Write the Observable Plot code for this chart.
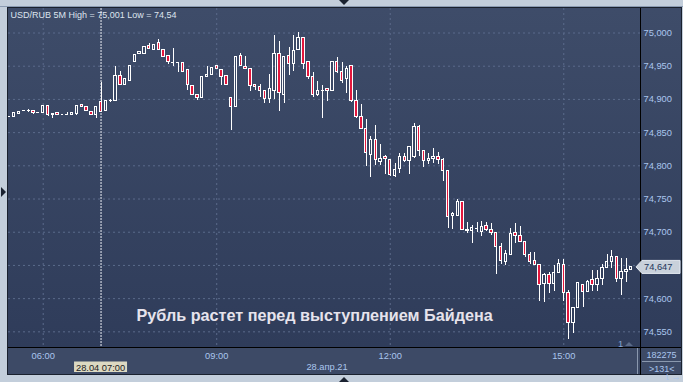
<!DOCTYPE html>
<html><head><meta charset="utf-8">
<script src="https://cdn.jsdelivr.net/npm/d3@7"></script>
<script src="https://cdn.jsdelivr.net/npm/@observablehq/plot@0.6"></script>
<style>
body{margin:0;}
#wrap{position:relative;width:683px;height:382px;background:#c3cedb;overflow:hidden;font-family:"Liberation Sans",Arial,sans-serif;}
.abs{position:absolute;}
</style></head><body><div id="wrap">
<div class="abs" style="left:0;top:6px;width:683px;height:1px;background:#8b9bb2"></div>
<div class="abs" style="left:7px;top:7px;width:675px;height:368px;background:#1a212e"></div>
<div class="abs" style="left:8px;top:8px;width:632px;height:339px;background:linear-gradient(#3e4c69,#2f3c5a)"></div>
<div class="abs" style="left:641px;top:8px;width:40px;height:339px;background:linear-gradient(#3e4c69,#2f3c5a)"></div>
<div class="abs" style="left:8px;top:348px;width:673px;height:26px;background:#3d4a66"></div>
<div class="abs" style="left:637px;top:348px;width:1px;height:26px;background:#8a98ae"></div>
<div class="abs" style="left:339px;top:0;width:0;height:0;border-left:5px solid transparent;border-right:5px solid transparent;border-top:5px solid #1a2230"></div>
<div class="abs" style="left:339px;top:377px;width:0;height:0;border-left:5px solid transparent;border-right:5px solid transparent;border-bottom:5px solid #1a2230"></div>
<div class="abs" style="left:1px;top:187px;width:0;height:0;border-top:5px solid transparent;border-bottom:5px solid transparent;border-left:5px solid #1a2230"></div>
<div id="chart" class="abs" style="left:0;top:0"></div>
<svg id="over" class="abs" style="left:0;top:0" width="683" height="382"></svg>
</div>
<script>
// 5-minute candles USD/RUB, 28.04.2021, first candle at 05:25
const startTime = "2021-04-28T05:25:00Z";
const open = [74.874,74.873,74.878,74.883,74.883,74.882,74.880,74.880,74.890,74.878,74.880,74.877,74.878,74.876,74.878,74.892,74.889,74.881,74.876,74.896,
74.882,74.898,74.898,74.936,74.922,74.927,74.956,74.969,74.968,74.980,74.975,74.985,74.975,74.965,74.956,74.955,74.955,74.944,74.920,74.907,
74.902,74.934,74.937,74.950,74.945,74.935,74.902,74.888,74.965,74.949,74.946,74.922,74.919,74.913,74.900,74.913,74.969,74.907,74.966,74.954,
74.974,74.993,74.956,74.933,74.906,74.914,74.916,74.913,74.956,74.942,74.930,74.950,74.897,74.874,74.856,74.816,74.839,74.806,74.813,74.809,
74.784,74.795,74.813,74.807,74.814,74.859,74.822,74.807,74.810,74.813,74.809,74.792,74.724,74.725,74.746,74.702,74.702,74.705,74.700,74.709,
74.704,74.699,74.677,74.655,74.665,74.699,74.695,74.686,74.665,74.656,74.651,74.622,74.636,74.622,74.638,74.651,74.609,74.564,74.586,74.621,
74.610,74.628,74.620,74.630,74.646,74.655,74.663,74.630,74.640,74.643];
const high = [74.875,74.880,74.882,74.883,74.885,74.882,74.880,74.890,74.890,74.878,74.880,74.877,74.880,74.879,74.890,74.893,74.889,74.881,74.888,74.925,
74.898,74.900,74.949,74.942,74.930,74.951,74.967,74.972,74.979,74.984,74.982,74.990,74.975,74.965,74.977,74.955,74.955,74.944,74.920,74.907,
74.933,74.949,74.948,74.950,74.945,74.935,74.902,74.964,74.969,74.965,74.946,74.922,74.922,74.913,74.937,74.996,74.987,74.964,74.978,74.996,
75.001,74.993,74.956,74.941,74.927,74.921,74.916,74.957,74.963,74.956,74.950,74.950,74.913,74.892,74.870,74.844,74.860,74.832,74.816,74.809,
74.804,74.819,74.819,74.829,74.863,74.860,74.822,74.819,74.826,74.820,74.811,74.793,74.730,74.749,74.747,74.715,74.710,74.715,74.716,74.714,
74.713,74.699,74.683,74.672,74.706,74.713,74.708,74.686,74.670,74.670,74.652,74.638,74.640,74.650,74.659,74.659,74.612,74.586,74.625,74.622,
74.628,74.643,74.643,74.652,74.666,74.672,74.664,74.661,74.661,74.648];
const low = [74.873,74.873,74.878,74.883,74.881,74.878,74.880,74.880,74.875,74.872,74.877,74.877,74.876,74.876,74.876,74.889,74.883,74.877,74.872,74.880,
74.882,74.896,74.897,74.922,74.922,74.927,74.956,74.968,74.968,74.976,74.975,74.975,74.964,74.953,74.949,74.941,74.942,74.913,74.907,74.899,
74.902,74.933,74.937,74.946,74.921,74.921,74.853,74.888,74.950,74.946,74.912,74.914,74.903,74.894,74.894,74.900,74.882,74.894,74.936,74.942,
74.974,74.945,74.930,74.903,74.905,74.872,74.897,74.913,74.939,74.924,74.909,74.896,74.872,74.854,74.799,74.783,74.800,74.800,74.787,74.784,
74.783,74.789,74.805,74.787,74.811,74.814,74.797,74.802,74.803,74.802,74.777,74.705,74.704,74.725,74.702,74.698,74.683,74.699,74.693,74.701,
74.695,74.637,74.652,74.650,74.665,74.683,74.685,74.662,74.652,74.650,74.596,74.594,74.607,74.610,74.638,74.595,74.539,74.547,74.586,74.586,
74.609,74.610,74.610,74.620,74.646,74.646,74.625,74.605,74.625,74.643];
const close = [74.874,74.880,74.881,74.883,74.883,74.879,74.880,74.890,74.877,74.876,74.877,74.877,74.878,74.879,74.890,74.889,74.883,74.877,74.888,74.881,
74.898,74.898,74.935,74.922,74.930,74.951,74.967,74.972,74.979,74.976,74.982,74.975,74.964,74.956,74.956,74.955,74.942,74.921,74.907,74.902,
74.933,74.937,74.948,74.946,74.934,74.921,74.889,74.964,74.950,74.946,74.920,74.918,74.912,74.900,74.916,74.969,74.909,74.964,74.953,74.973,
74.993,74.954,74.933,74.906,74.913,74.914,74.913,74.956,74.942,74.928,74.946,74.897,74.873,74.856,74.820,74.839,74.809,74.811,74.811,74.786,
74.794,74.813,74.807,74.829,74.859,74.822,74.808,74.811,74.813,74.809,74.792,74.723,74.727,74.746,74.703,74.704,74.707,74.705,74.708,74.704,
74.699,74.678,74.657,74.667,74.697,74.694,74.686,74.665,74.655,74.651,74.620,74.635,74.622,74.638,74.652,74.609,74.564,74.586,74.624,74.610,
74.625,74.620,74.630,74.646,74.655,74.662,74.630,74.640,74.643,74.647];
const yTicks = [74.55,74.60,74.65,74.70,74.75,74.80,74.85,74.90,74.95,75.00];
const xTickLabels = ["06:00","09:00","12:00","15:00"];
const cursorLabel = "28.04 07:00";
const dateLabel = "28.апр.21";
const titleText = "USD/RUB 5M High = 75,001 Low = 74,54";
const headline = "Рубль растет перед выступлением Байдена";
const lastPrice = 74.647;
const volumeText = "182275";
const barsText = ">131<";

const FIVE = 5*60*1000;
const t0 = Date.parse(startTime);
const data = open.map((o,i)=>({t:new Date(t0+i*FIVE), o, h:high[i], l:low[i], c:close[i]}));
const dayAt = s => new Date(`2021-04-28T${s}:00Z`);
const xTickDates = xTickLabels.map(dayAt);
const cursorTime = dayAt("07:00");
const fmtY = d => d3.format(".3f")(d).replace(".", ",");
// the last-price box covers the tick label nearest to it
const yLabelTicks = yTicks.filter(v => Math.abs(v - lastPrice) > 0.01);
const RED = "#e3173d";
const GRID = "#5b6b8b";
const AXC = "#aac6ee";

const chart = Plot.plot({
  width:683, height:382, marginLeft:8, marginRight:43, marginTop:8, marginBottom:35,
  style:{background:"transparent", fontFamily:"'Liberation Sans', Arial, sans-serif", fontSize:"9.3px", overflow:"visible"},
  x:{type:"utc", domain:[new Date(Date.UTC(2021,3,28,5,24)), new Date(Date.UTC(2021,3,28,16,19,36))]},
  y:{domain:[74.5264,75.0369]},
  marks:[
    Plot.ruleY(yTicks,{stroke:GRID, strokeDasharray:"2,3"}),
    Plot.ruleX(xTickDates,{stroke:GRID, strokeDasharray:"2,3"}),
    Plot.ruleX([cursorTime],{stroke:"#eef0f6", strokeDasharray:"2,1"}),
    Plot.ruleX(data,{x:"t", y1:"h", y2:d=>Math.max(d.o,d.c), stroke:"white", shapeRendering:"crispEdges"}),
    Plot.ruleX(data,{x:"t", y1:d=>Math.min(d.o,d.c), y2:"l", stroke:"white", shapeRendering:"crispEdges"}),
    Plot.rect(data.filter(d=>d.o!==d.c),{x1:d=>new Date(+d.t-75000), x2:d=>new Date(+d.t+75000), y1:"o", y2:"c",
      fill:d=>d.c<d.o?RED:"none", stroke:"white", shapeRendering:"crispEdges"}),
    Plot.ruleY(data.filter(d=>d.o===d.c),{y:"c", x1:d=>new Date(+d.t-90000), x2:d=>new Date(+d.t+90000), stroke:"white", shapeRendering:"crispEdges"}),
    Plot.axisY(yLabelTicks,{anchor:"right", tickSize:0, tickPadding:3, tickFormat:fmtY, color:AXC, fontSize:9.3}),
    Plot.axisX(xTickDates,{anchor:"bottom", tickSize:0, tickPadding:5, tickFormat:d3.utcFormat("%H:%M"), color:AXC, fontSize:9.3})
  ]
});
document.getElementById("chart").append(chart);

const sx = chart.scale("x"), sy = chart.scale("y");
const o = d3.select("#over");
o.append("line").attr("x1",640.5).attr("x2",640.5).attr("y1",8).attr("y2",375).attr("stroke","#000");
o.append("line").attr("x1",8).attr("x2",681).attr("y1",347.5).attr("y2",347.5).attr("stroke","#000");
o.append("line").attr("x1",642).attr("x2",681).attr("y1",361.5).attr("y2",361.5).attr("stroke","#8a98ae");
o.append("text").attr("x",10.5).attr("y",17.8).attr("fill","#dde4ee").attr("font-size",9).text(titleText);
o.append("text").attr("x",136.5).attr("y",321).attr("fill","#e6e3ec").attr("font-size",16.2).attr("font-weight","bold").text(headline);
const cx = sx.apply(cursorTime);
o.append("rect").attr("x",cx-26.5).attr("y",361.5).attr("width",53).attr("height",10.5).attr("fill","#dcd9c2");
o.append("text").attr("x",cx).attr("y",370.5).attr("text-anchor","middle").attr("fill","#1c1c1c").attr("font-size",9.3).text(cursorLabel);
o.append("text").attr("x",327).attr("y",370.3).attr("text-anchor","middle").attr("fill",AXC).attr("font-size",9.3).text(dateLabel);
o.append("text").attr("x",646.5).attr("y",358.3).attr("fill",AXC).attr("font-size",9).text(volumeText);
o.append("text").attr("x",649).attr("y",372).attr("fill",AXC).attr("font-size",9).text(barsText);
o.append("text").attr("x",618).attr("y",346.5).attr("fill","#86a6d6").attr("font-size",9.3).text("1");
o.append("path").attr("d","M625,346 L629,342 L633,346 Z").attr("fill","#5a6a88");
const py = sy.apply(lastPrice);
o.append("path").attr("d",`M636,${py} L642,${py-6.5} L680,${py-6.5} L680,${py+6.5} L642,${py+6.5} Z`).attr("fill","#c9d1db").attr("stroke","#e4e9f0");
o.append("text").attr("x",644).attr("y",py+3.4).attr("fill","#23365a").attr("font-size",9.3).text(fmtY(lastPrice));
</script></body></html>
